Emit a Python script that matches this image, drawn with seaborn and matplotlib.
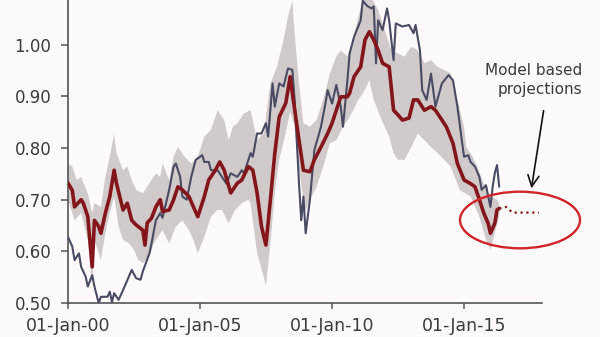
import numpy as np
import pandas as pd
import matplotlib
matplotlib.use("Agg")
import matplotlib.pyplot as plt
import matplotlib.dates as mdates
from matplotlib.patches import Ellipse
import seaborn as sns

# ---------------- data ----------------
model_dates = ["2000-01","2000-03","2000-04","2000-07","2000-08","2000-10","2000-12","2001-01","2001-03","2001-04",
               "2001-06","2001-08","2001-10","2001-11","2002-02","2002-04","2002-06","2002-08","2002-11","2002-12",
               "2003-01","2003-03","2003-05","2003-07","2003-08","2003-11","2004-01","2004-03","2004-05","2004-08",
               "2004-10","2004-12","2005-03","2005-05","2005-08","2005-10","2005-12","2006-03","2006-06","2006-08",
               "2006-11","2007-01","2007-03","2007-05","2007-07","2007-09","2007-11","2008-01","2008-04","2008-06",
               "2008-07","2008-10","2008-12","2009-03","2009-05","2009-08","2009-11","2010-01","2010-03","2010-05",
               "2010-08","2010-09","2010-11","2011-02","2011-04","2011-06","2011-08","2011-10","2011-12","2012-03",
               "2012-05","2012-07","2012-09","2012-12","2013-02","2013-04","2013-07","2013-10","2013-12","2014-03",
               "2014-05","2014-08","2014-10","2015-01","2015-04","2015-06","2015-08","2015-10","2015-12","2016-01",
               "2016-03","2016-04","2016-05"]
model_vals = [0.732,0.718,0.686,0.700,0.693,0.667,0.570,0.660,0.648,0.635,
              0.674,0.706,0.757,0.732,0.680,0.693,0.660,0.651,0.641,0.612,
              0.655,0.664,0.686,0.700,0.677,0.680,0.700,0.725,0.719,0.706,
              0.686,0.667,0.706,0.738,0.757,0.773,0.757,0.713,0.732,0.738,
              0.764,0.757,0.713,0.648,0.612,0.700,0.790,0.860,0.887,0.938,
              0.906,0.815,0.757,0.754,0.777,0.802,0.828,0.848,0.873,0.899,
              0.899,0.906,0.938,0.957,1.009,1.025,1.009,0.989,0.964,0.957,
              0.873,0.864,0.854,0.858,0.893,0.893,0.873,0.880,0.873,0.854,
              0.841,0.809,0.770,0.738,0.731,0.725,0.700,0.674,0.654,0.635,
              0.654,0.680,0.683]

proj_dates = ["2016-05","2016-08","2016-11","2017-11"]
proj_vals = [0.683,0.686,0.675,0.675]

actual_dates = ["2000-01","2000-03","2000-04","2000-06","2000-07","2000-09","2000-10","2000-12","2001-01","2001-03",
                "2001-04","2001-07","2001-08","2001-09","2001-10","2001-12","2002-02","2002-05","2002-06","2002-08",
                "2002-10","2002-11","2003-02","2003-03","2003-05","2003-07","2003-08","2003-11","2004-01","2004-02",
                "2004-04","2004-05","2004-07","2004-09","2004-11","2005-02","2005-03","2005-05","2005-06","2005-09",
                "2005-11","2006-01","2006-03","2006-06","2006-08","2006-09","2006-12","2007-01","2007-03","2007-05",
                "2007-07","2007-08","2007-10","2007-11","2008-01","2008-03","2008-05","2008-07","2008-08","2008-10",
                "2008-11","2008-12","2009-01","2009-03","2009-05","2009-08","2009-10","2009-11","2010-01","2010-03",
                "2010-05","2010-06","2010-08","2010-09","2010-11","2011-02","2011-03","2011-05","2011-07","2011-08",
                "2011-09","2011-10","2011-12","2012-02","2012-03","2012-05","2012-06","2012-09","2012-12","2013-02",
                "2013-03","2013-05","2013-06","2013-08","2013-10","2013-12","2014-03","2014-06","2014-08","2014-10",
                "2014-12","2015-01","2015-03","2015-04","2015-06","2015-08","2015-09","2015-11","2015-12","2016-01",
                "2016-02","2016-03","2016-04","2016-05"]
actual_vals = [0.628,0.609,0.583,0.596,0.570,0.551,0.532,0.554,0.532,0.500,
               0.512,0.512,0.522,0.502,0.519,0.506,0.525,0.554,0.564,0.548,
               0.545,0.561,0.596,0.615,0.660,0.674,0.665,0.719,0.764,0.770,
               0.744,0.706,0.700,0.744,0.777,0.786,0.773,0.773,0.757,0.757,
               0.744,0.731,0.751,0.744,0.757,0.751,0.790,0.783,0.828,0.828,
               0.848,0.822,0.925,0.880,0.925,0.919,0.954,0.951,0.893,0.731,
               0.660,0.706,0.635,0.700,0.796,0.841,0.886,0.912,0.886,0.922,
               0.880,0.841,0.930,0.983,1.015,1.047,1.085,1.075,1.070,1.074,
               0.964,1.047,1.028,1.070,1.047,0.970,1.041,1.035,1.038,1.022,
               1.038,0.989,0.912,0.893,0.944,0.880,0.925,0.941,0.931,0.880,
               0.815,0.783,0.786,0.773,0.764,0.744,0.719,0.728,0.706,0.686,
               0.725,0.751,0.767,0.725]

upper_dates = ["2000-01","2000-03","2000-05","2000-07","2000-10","2000-12","2001-01","2001-04","2001-06","2001-08",
               "2001-10","2001-11","2002-02","2002-04","2002-06","2002-08","2002-11","2003-01","2003-03","2003-05",
               "2003-07","2003-08","2003-11","2004-01","2004-03","2004-06","2004-09","2004-12","2005-03","2005-06",
               "2005-09","2005-12","2006-02","2006-04","2006-06","2006-09","2006-12","2007-03","2007-06","2007-09",
               "2007-12","2008-03","2008-05","2008-07","2008-08","2008-10","2008-12","2009-03","2009-06","2009-09",
               "2009-12","2010-03","2010-05","2010-08","2010-10","2011-01","2011-03","2011-07","2011-10","2012-01",
               "2012-04","2012-07","2012-10","2013-01","2013-04","2013-07","2013-10","2014-01","2014-04","2014-07",
               "2014-10","2015-01","2015-02","2015-05","2015-07","2015-10","2016-01","2016-04","2016-05"]
upper_vals = [0.770,0.764,0.738,0.744,0.712,0.674,0.693,0.686,0.744,0.783,
              0.828,0.790,0.757,0.764,0.738,0.719,0.712,0.725,0.738,0.751,
              0.744,0.770,0.738,0.783,0.802,0.783,0.770,0.783,0.822,0.835,
              0.873,0.854,0.815,0.841,0.848,0.867,0.873,0.815,0.828,0.925,
              0.957,1.009,1.054,1.085,1.022,0.925,0.848,0.841,0.854,0.893,
              0.944,0.977,0.989,0.977,1.002,1.054,1.086,1.090,1.067,1.028,
              0.989,0.983,0.977,0.996,0.989,0.964,0.970,0.957,0.951,0.944,
              0.893,0.841,0.802,0.783,0.764,0.731,0.706,0.700,0.693]

lower_dates = ["2000-01","2000-04","2000-07","2000-10","2000-12","2001-01","2001-04","2001-06","2001-08","2001-10",
               "2001-12","2002-02","2002-05","2002-07","2002-09","2002-11","2003-02","2003-04","2003-07","2003-08",
               "2003-11","2004-02","2004-05","2004-08","2004-10","2004-12","2005-03","2005-06","2005-09","2005-11",
               "2006-02","2006-05","2006-08","2006-11","2006-12","2007-03","2007-06","2007-07","2007-09","2007-11",
               "2008-01","2008-04","2008-06","2008-08","2008-10","2008-12","2009-01","2009-03","2009-06","2009-09",
               "2009-12","2010-03","2010-06","2010-09","2011-01","2011-04","2011-06","2011-08","2011-11","2012-03",
               "2012-05","2012-07","2012-10","2013-01","2013-04","2013-07","2013-10","2014-01","2014-04","2014-07",
               "2014-11","2015-04","2015-08","2015-11","2016-01","2016-03","2016-05"]
lower_vals = [0.700,0.660,0.674,0.622,0.532,0.622,0.583,0.635,0.674,0.706,
              0.648,0.622,0.615,0.603,0.583,0.577,0.590,0.615,0.635,0.641,
              0.615,0.648,0.660,0.641,0.622,0.596,0.628,0.667,0.680,0.680,
              0.654,0.680,0.693,0.700,0.693,0.596,0.551,0.532,0.615,0.712,
              0.777,0.830,0.870,0.840,0.760,0.700,0.680,0.700,0.725,0.764,
              0.809,0.815,0.841,0.860,0.893,0.912,0.931,0.893,0.860,0.822,
              0.790,0.777,0.777,0.802,0.828,0.815,0.802,0.790,0.777,0.764,
              0.719,0.706,0.667,0.622,0.603,0.635,0.667]

y_ticks = [0.50, 0.60, 0.70, 0.80, 0.90, 1.00, 1.10]
annotation_text = "Model based\nprojections"

# ---------------- style ----------------
BG = "#fefafb"
RED = "#84151a"
NAVY = "#484b63"
BAND = "#d1caca"
TXT = "#3a3a3a"

sns.set_style("ticks")
plt.rcParams["font.family"] = ["DejaVu Sans"]

fig = plt.figure(figsize=(6, 3.37), dpi=100, facecolor=BG)
ax = fig.add_axes([0.1133, 0.1009, 0.79, 0.920])
ax.set_facecolor(BG)

m_x = pd.to_datetime(model_dates)
a_x = pd.to_datetime(actual_dates)
p_x = pd.to_datetime(proj_dates)
u_x = pd.to_datetime(upper_dates)
l_x = pd.to_datetime(lower_dates)

sns.lineplot(x=a_x, y=actual_vals, ax=ax, color=NAVY, lw=1.5, zorder=3)
sns.lineplot(x=m_x, y=model_vals, ax=ax, color=RED, lw=2.6, zorder=4)
sns.lineplot(x=p_x, y=proj_vals, ax=ax, color=RED, lw=1.6, linestyle=":", zorder=4)

poly_x = np.concatenate([mdates.date2num(u_x), mdates.date2num(l_x)[::-1]])
poly_y = np.concatenate([np.array(upper_vals), np.array(lower_vals)[::-1]])
ax.fill(poly_x, poly_y, color=BAND, lw=0, zorder=1)

ax.set_xlim(pd.Timestamp("2000-01-01"), pd.Timestamp("2017-12-14"))
ax.set_ylim(0.50, 1.10)
ax.set_yticks(y_ticks)
ax.yaxis.set_major_formatter(matplotlib.ticker.FormatStrFormatter("%.2f"))
ax.xaxis.set_major_locator(mdates.YearLocator(5))
ax.xaxis.set_major_formatter(mdates.DateFormatter("%d-%b-%y"))
ax.set_xlabel("")
ax.set_ylabel("")

sns.despine(ax=ax)
for s in ["left", "bottom"]:
    ax.spines[s].set_color("#555555")
    ax.spines[s].set_linewidth(1.2)
ax.tick_params(axis="y", length=5, width=1.1, color="#555555", labelsize=12, labelcolor=TXT, pad=7)
ax.tick_params(axis="x", length=4, width=1.1, color="#555555", labelsize=12.5, labelcolor=TXT, pad=6)

# annotation
ell = Ellipse((0.8667, 0.3472), 0.2, 0.168, transform=fig.transFigure,
              fill=False, ec="#d0242a", lw=1.7, clip_on=False, zorder=6)
fig.add_artist(ell)
ax.annotate("", xy=(0.885, 0.433), xycoords="figure fraction",
            xytext=(0.9067, 0.6795), textcoords="figure fraction",
            arrowprops=dict(arrowstyle="->", color="#111111", lw=1.2, mutation_scale=20),
            annotation_clip=False)
fig.text(0.97, 0.763, annotation_text, ha="right", va="center", fontsize=11,
         color=TXT, linespacing=1.35, multialignment="right")

fig.savefig("out.png", dpi=100, facecolor=BG)
